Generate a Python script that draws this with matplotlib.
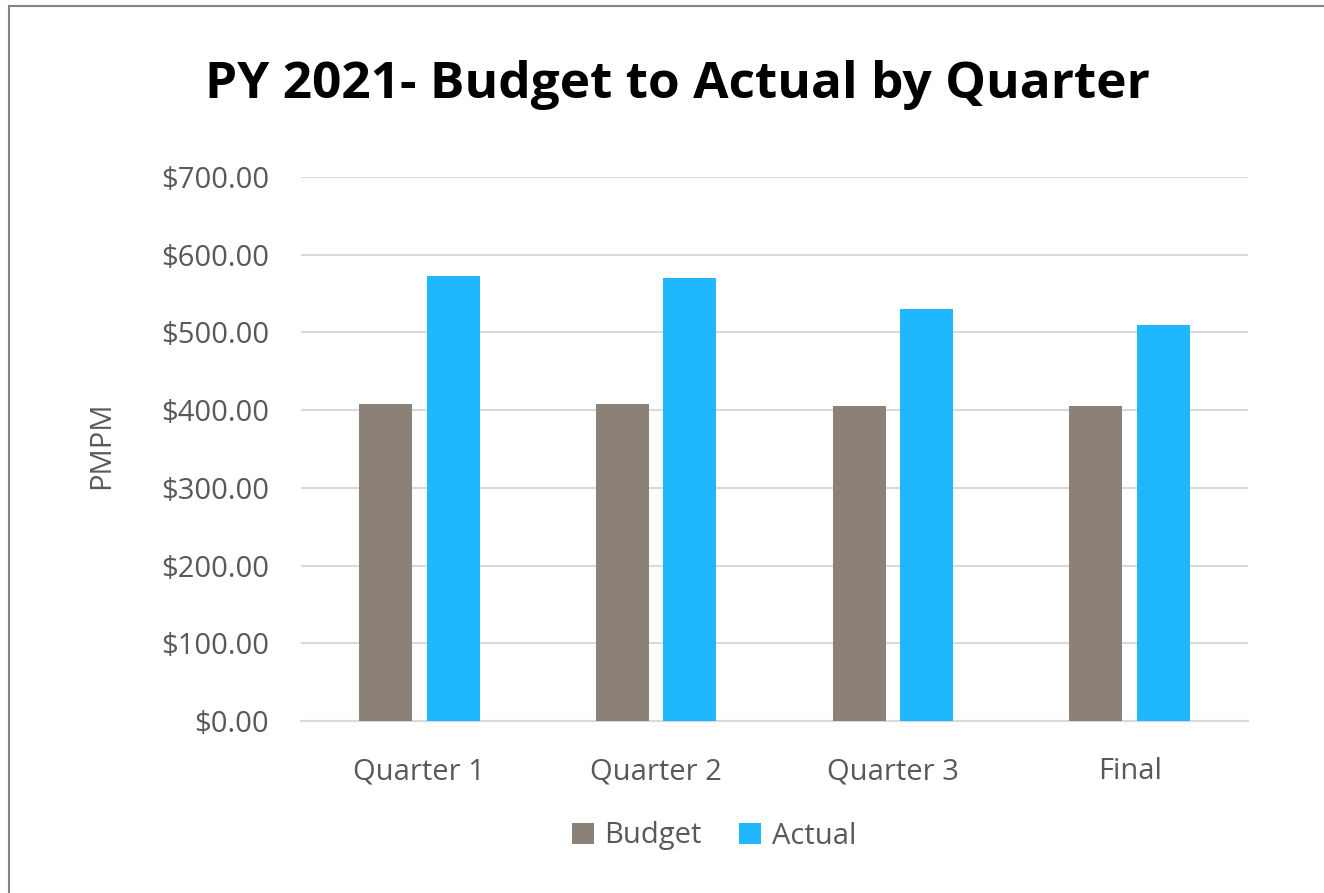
import matplotlib
matplotlib.use("Agg")
import matplotlib.pyplot as plt
import numpy as np
from matplotlib.lines import Line2D

categories = ["Quarter 1", "Quarter 2", "Quarter 3", "Final"]
budget = [408, 408, 405, 405]
actual = [572, 570, 530, 509]
y_ticks = [0, 100, 200, 300, 400, 500, 600, 700]

plt.rcParams['font.family'] = ['Open Sans', 'DejaVu Sans']
text_gray = '#595959'
grid_gray = '#d9d9d9'

fig = plt.figure(figsize=(13.24, 8.93), dpi=100)
ax = fig.add_axes([301/1324, 1 - 721/893, (1248 - 301)/1324, (721 - 177)/893])

x = np.arange(len(categories))
w = 0.224
ax.bar(x - 0.143, budget, w, color='#8b8178', label='Budget', zorder=3)
ax.bar(x + 0.143, actual, w, color='#1fb8ff', label='Actual', zorder=3)

ax.set_xlim(-0.5, len(categories) - 0.5)
ax.set_ylim(0, 700)
ax.set_yticks(y_ticks)
ax.set_yticklabels([f"${v:.2f}" for v in y_ticks])
ax.set_xticks(x)
ax.set_xticklabels(categories)
ax.tick_params(axis='both', length=0, labelsize=21, colors=text_gray)
ax.tick_params(axis='y', pad=23)
ax.tick_params(axis='x', pad=26)
ax.grid(axis='y', color=grid_gray, lw=1.5, zorder=0)
for s in ['top', 'right', 'left']:
    ax.spines[s].set_visible(False)
ax.spines['bottom'].set_color(grid_gray)
ax.spines['bottom'].set_linewidth(1.5)

fig.text(102/1324, 1 - 445/893, "PMPM", rotation=90, fontsize=21, color=text_gray,
         ha='center', va='center')
fig.text(677/1324, 1 - 85/893, "PY 2021- Budget to Actual by Quarter", fontsize=37,
         fontweight='bold', color='black', ha='center', va='center')

leg = fig.legend(loc='center', bbox_to_anchor=(714/1324, 1 - 836/893), ncol=2,
                 frameon=False, fontsize=21, handlelength=0.75, handleheight=0.75,
                 handletextpad=0.35, columnspacing=1.3)
for t in leg.get_texts():
    t.set_color(text_gray)

# outer border
border = '#8b8178'
fig.add_artist(Line2D([9/1324, 9/1324], [0, 1 - 6/893], transform=fig.transFigure, color=border, lw=1.5))
fig.add_artist(Line2D([9/1324, 1], [1 - 6/893, 1 - 6/893], transform=fig.transFigure, color=border, lw=1.5))

fig.savefig("out.png", dpi=100, facecolor='white')
